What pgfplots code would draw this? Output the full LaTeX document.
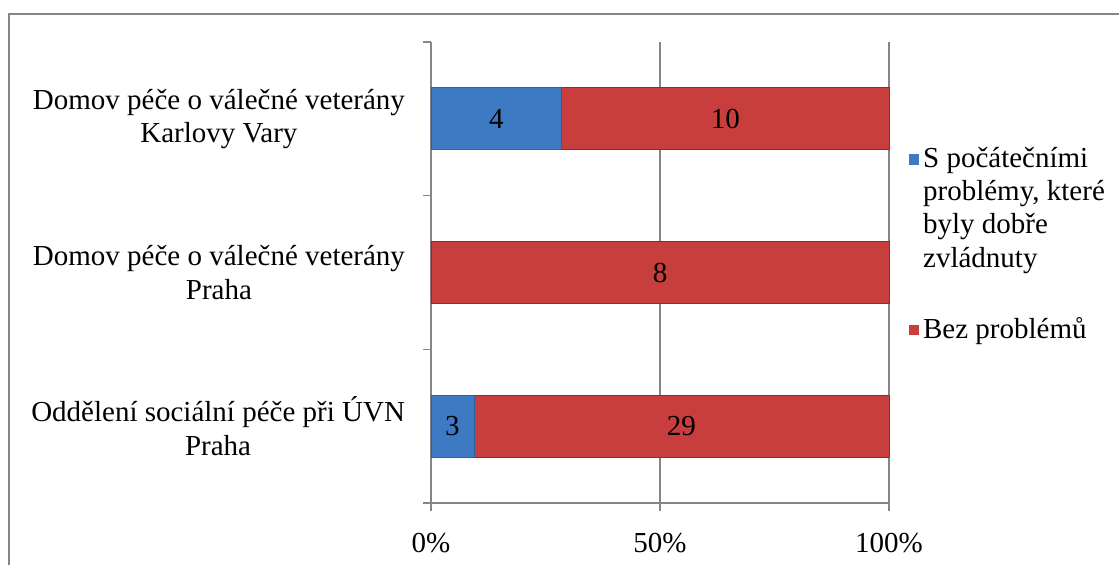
\documentclass[border=0pt]{standalone}
\usepackage{pgfplots}
\pgfplotsset{compat=1.18}
\usepackage{pgfplotstable}
\usepackage{fontspec}
\setmainfont{Liberation Serif}
\definecolor{bluemain}{RGB}{62,122,196}
\definecolor{blueedge}{RGB}{44,96,160}
\definecolor{redmain}{RGB}{200,62,60}
\definecolor{rededge}{RGB}{150,40,40}
\definecolor{axgray}{RGB}{134,134,134}
\pgfplotstableread{
y a b pa pb
0 3 29 9.375 90.625
1 0 8 0 100
2 4 10 28.571 71.429
}\data
\begin{document}
\fontsize{14.5}{16.6}\selectfont
\begin{tikzpicture}
\useasboundingbox (0,0) rectangle (559.5pt,-282pt);
\draw[axgray, line width=1pt] (4.5pt,-290pt) -- (4.5pt,-7pt) -- (570pt,-7pt);
\begin{axis}[
  at={(215.5pt,-251.5pt)}, anchor=south west,
  scale only axis, width=229pt, height=230.5pt,
  xbar stacked, bar width=31pt,
  xmin=0, xmax=100, ymin=-0.5, ymax=2.5,
  axis x line=bottom, axis y line=left,
  axis line style={-, axgray, line width=0.6pt},
  xtick={0,50,100}, xticklabels={0\%,50\%,100\%},
  ytick={-0.5,0.5,1.5,2.5}, yticklabels={},
  extra y ticks={0,1,2},
  extra y tick labels={{Oddělení sociální péče při ÚVN\\Praha},{Domov péče o válečné veterány\\Praha},{Domov péče o válečné veterány\\Karlovy Vary}},
  extra y tick style={tick style={draw=none}, yticklabel style={align=center, xshift=-4pt}},
  tick align=outside, major tick length=4pt,
  tick style={axgray, line width=0.6pt},
  xmajorgrids, grid style={axgray, line width=0.6pt},
  xticklabel style={yshift=-6pt},
  /pgf/number format/assume math mode=true,
  point meta=explicit,
  nodes near coords={\pgfmathfloatifflags{\pgfplotspointmeta}{0}{}{\pgfmathprintnumber{\pgfplotspointmeta}}},
  every node near coord/.append style={anchor=center, text=black},
  legend style={at={(1.03,0.79)}, anchor=north west, draw=none, fill=none,
    cells={align=left, anchor=west}, row sep=19pt},
  clip=false,
]
\addplot[draw=blueedge, fill=bluemain,
  legend image code/.code={\fill[bluemain] (0pt,22.6pt) rectangle (4.6pt,27.2pt);}] table[x=pa, y=y, meta=a] \data;
\addplot[draw=rededge, fill=redmain,
  legend image code/.code={\fill[redmain] (0pt,-2.3pt) rectangle (4.6pt,2.3pt);}] table[x=pb, y=y, meta=b] \data;
\legend{{S počátečními\\problémy, které\\byly dobře\\zvládnuty}, {Bez problémů}}
\end{axis}
\end{tikzpicture}
\end{document}
